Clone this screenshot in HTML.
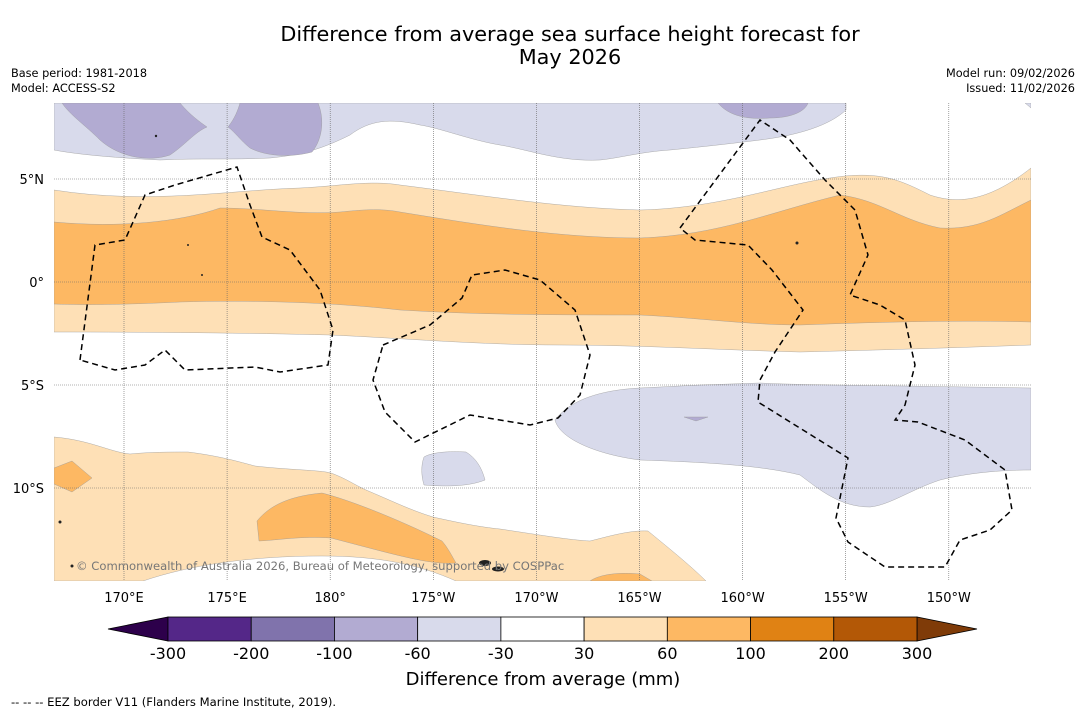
<!DOCTYPE html>
<html><head><meta charset="utf-8"><style>
body{margin:0;background:#fff;font-family:"DejaVu Sans","Liberation Sans",sans-serif}
#root{position:relative;width:1085px;height:713px;overflow:hidden;background:#fff}
</style></head><body>
<div id="root">
<svg width="1085" height="713" xmlns="http://www.w3.org/2000/svg" font-family="DejaVu Sans, Liberation Sans, sans-serif">
<text x="570" y="41" text-anchor="middle" font-size="20.8">Difference from average sea surface height forecast for</text>
<text x="570" y="64" text-anchor="middle" font-size="20.8">May 2026</text>
<text x="11" y="77" font-size="11.3">Base period: 1981-2018</text>
<text x="11" y="92" font-size="11.3">Model: ACCESS-S2</text>
<text x="1075" y="77" font-size="11.3" text-anchor="end">Model run: 09/02/2026</text>
<text x="1075" y="92" font-size="11.3" text-anchor="end">Issued: 11/02/2026</text>
<defs><clipPath id="mc"><rect x="54" y="103" width="977" height="478"/></clipPath></defs>
<g clip-path="url(#mc)">
<rect x="54" y="103" width="977" height="478" fill="#fff"/>
<g stroke="#999" stroke-width="0.4">
<path fill="#d8daeb" d="M54,103 L846,103 L846,110 C830,125 800,135 760,140 C720,145 690,148 670,150 C640,152 620,158 600,160 C560,162 530,150 500,145 C470,140 440,128 420,125 C390,118 370,120 350,135 C320,150 300,155 270,158 C230,160 200,158 160,160 C120,158 80,155 54,150 Z"/>
<path fill="#d8daeb" d="M1025,103 L1031,103 L1031,108 Z"/>
<path fill="#b2abd2" d="M62,103 L180,103 C190,115 200,122 207,127 C195,132 185,145 170,155 C150,162 120,158 100,140 C85,125 70,115 62,103 Z"/>
<path fill="#b2abd2" d="M240,103 L318,103 C325,120 322,140 312,152 C290,158 265,156 250,148 C240,140 235,132 228,127 C235,118 238,110 240,103 Z"/>
<path fill="#b2abd2" d="M718,103 L808,103 C805,112 790,118 770,118 C745,120 728,115 718,103 Z"/>
<path fill="#fee0b6" d="M54,190 C150,205 230,190 300,188 C340,186 370,180 400,185 C480,195 560,208 640,210 C720,208 780,185 830,178 C880,170 900,180 930,195 C960,205 990,200 1031,168 L1031,345 C950,348 880,350 800,352 C720,350 640,345 560,345 C480,345 400,338 330,335 C250,333 150,332 54,332 Z"/>
<path fill="#fdb863" d="M54,222 C120,228 180,222 220,208 C260,208 300,215 340,212 C360,210 380,208 400,212 C480,225 560,238 640,238 C720,235 770,212 840,195 C880,200 900,220 940,228 C980,230 1000,215 1031,200 L1031,322 C960,320 880,322 800,325 C750,325 700,318 640,315 C560,315 480,315 400,310 C330,302 250,300 180,302 C120,305 80,305 54,304 Z"/>
<path fill="#d8daeb" d="M555,420 C570,400 600,390 640,388 L700,385 L760,383 C800,385 850,385 1031,388 L1031,470 C990,470 960,475 940,480 C910,490 890,505 870,507 C840,507 820,490 800,475 C760,465 700,462 640,460 C600,455 560,440 555,420 Z"/>
<path fill="#b2abd2" d="M684,417 L708,417 L696,421 Z"/>
<path fill="#d8daeb" d="M424,457 C432,452 450,451 466,452 C476,458 482,468 485,480 C470,486 450,487 424,485 C421,475 421,465 424,457 Z"/>
<path fill="#fee0b6" d="M54,437 C90,440 110,452 130,454 C150,452 170,452 188,452 C220,456 240,462 255,466 C290,470 320,470 331,473 C345,478 355,485 366,490 C390,500 410,510 433,517 C460,523 480,527 500,529 C540,535 570,540 590,541 C610,536 630,530 648,531 C665,545 690,565 706,581 L456,581 C420,565 380,556 322,556 C250,556 190,565 143,581 L54,581 Z"/>
<path fill="#fdb863" d="M257,521 C270,505 290,496 322,493 C350,500 400,520 442,541 C448,548 452,556 456,563 C430,565 400,556 331,538 C300,536 280,540 259,541 Z"/>
<path fill="#fdb863" d="M54,468 L72,461 L92,478 L72,492 L54,484 Z"/>
<path fill="#fdb863" d="M590,581 C600,574 620,572 640,574 L652,581 Z"/>
</g>
<g stroke="#666" stroke-width="0.6" stroke-dasharray="1,1" id="grid"></g>
<g fill="none" stroke="#000" stroke-width="1.5" stroke-dasharray="6,4">
<polyline points="80,360 95,245 125,240 145,195 175,185 237,167 250,205 262,237 290,250 320,290 333,330 328,365 280,372 255,367 185,370 165,350 145,365 115,370 80,360"/>
<polyline points="383,345 430,325 462,298 472,275 505,270 540,280 575,310 590,355 580,395 558,418 530,425 470,415 415,442 385,412 373,380 383,345"/>
<polyline points="680,228 760,120 790,140 825,180 855,210 868,255 850,295 880,305 905,320 915,365 905,405 895,420 918,422 965,440 1005,470 1012,510 990,530 960,540 945,567 885,567 848,542 836,518 848,458 758,402 760,380 775,352 803,310 772,270 748,245 695,240 680,228"/>
</g>
<g fill="#222">
<ellipse cx="485" cy="563" rx="6" ry="3"/><ellipse cx="498" cy="569" rx="6" ry="2.5"/>
<circle cx="60" cy="522" r="1.5"/><circle cx="72" cy="566" r="1.5"/><circle cx="156" cy="136" r="1.2"/><circle cx="797" cy="243" r="1.5"/><circle cx="188" cy="245" r="1"/><circle cx="202" cy="275" r="1"/>
</g>
<text x="76" y="570" font-size="11.6" fill="#777">© Commonwealth of Australia 2026, Bureau of Meteorology, supported by COSPPac</text>
</g>
<g font-size="13" id="axlab"></g>
<g id="cbar"></g>
<text x="543" y="685" text-anchor="middle" font-size="18">Difference from average (mm)</text>
<text x="11" y="706" font-size="11.6">--  --  -- EEZ border V11 (Flanders Marine Institute, 2019).</text>
</svg>
</div>
<script>
const lonLabels=["170°E","175°E","180°","175°W","170°W","165°W","160°W","155°W","150°W"];
const latLabels=["5°N","0°","5°S","10°S"];
const cbLevels=["-300","-200","-100","-60","-30","30","60","100","200","300"];
const cbColors=["#542788","#8073ac","#b2abd2","#d8daeb","#ffffff","#fee0b6","#fdb863","#e08214","#b35806"];
const cbLow="#2d004b", cbHigh="#7f3b08";
const NS="http://www.w3.org/2000/svg";
function lonX(i){return 124+i*103.1;}
function latY(i){return 179+i*103;}
function mk(t,a,p){const e=document.createElementNS(NS,t);for(const k in a)e.setAttribute(k,a[k]);p.appendChild(e);return e;}
const grid=document.getElementById('grid'),ax=document.getElementById('axlab');
lonLabels.forEach((l,i)=>{const x=lonX(i);
 const g=mk('line',{x1:x,y1:103,x2:x,y2:581},grid);
 
 
 const t=mk('text',{x:x,y:602,'text-anchor':'middle'},ax);t.textContent=l;
 
 });
latLabels.forEach((l,i)=>{const y=latY(i);
 const g=mk('line',{x1:54,y1:y,x2:1031,y2:y},grid);
 
 
 const t=mk('text',{x:44,y:y+5,'text-anchor':'end'},ax);t.textContent=l;
 
 });
const cb=document.getElementById('cbar');
const x0=168,x1=917,y0=617,h=24,w=(x1-x0)/cbColors.length;
const lt=mk('polygon',{points:`108,${y0+h/2} ${x0},${y0} ${x0},${y0+h}`,fill:cbLow,stroke:'#000','stroke-width':0.8},cb);


const rt=mk('polygon',{points:`977,${y0+h/2} ${x1},${y0} ${x1},${y0+h}`,fill:cbHigh,stroke:'#000','stroke-width':0.8},cb);


cbColors.forEach((c,i)=>{const r=mk('rect',{x:x0+i*w,y:y0,width:w,height:h,fill:c,stroke:'#000','stroke-width':0.8},cb);
 
 });
cbLevels.forEach((l,i)=>{const t=mk('text',{x:x0+i*w,y:659,'text-anchor':'middle','font-size':16},cb);t.textContent=l;
 
 });
</script>
</body></html>
